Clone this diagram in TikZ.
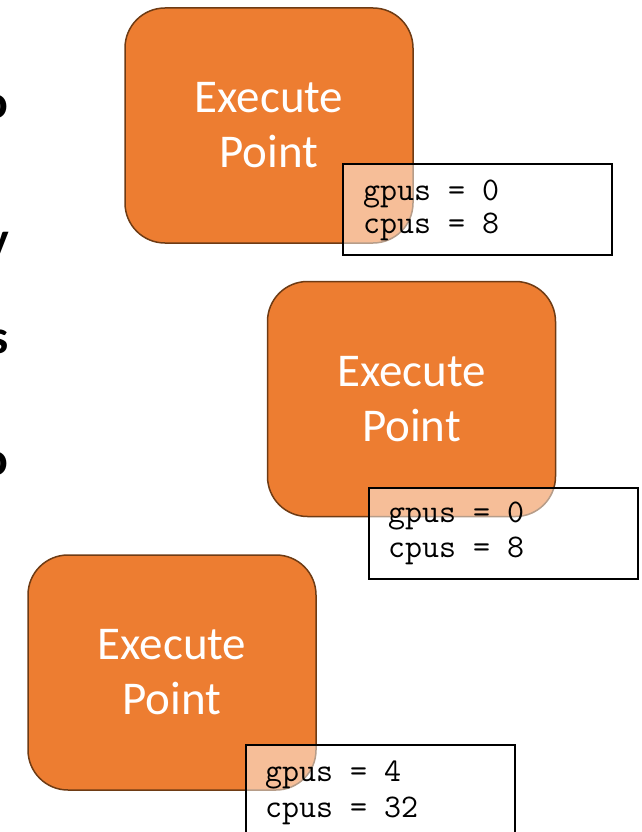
\documentclass[tikz,border=0pt]{standalone}
\usepackage{fontspec}
\newfontfamily\calibri{Carlito}
\usetikzlibrary{positioning}
\definecolor{eporange}{HTML}{ED7D31}
\definecolor{epborder}{HTML}{6E3B14}
\tikzset{
  epbox/.style={draw=epborder, line width=1.5pt, fill=eporange, rounded corners=40pt,
    minimum width=288pt, minimum height=235pt, inner sep=0pt, align=center,
    text=white, font=\calibri\fontsize{47}{55}\selectfont},
  resbox/.style={draw=black, line width=1.5pt, fill=white, fill opacity=0.5,
    minimum width=269pt, minimum height=91pt, inner sep=0pt, anchor=north west},
  restext/.style={anchor=base west, inner sep=0pt, text=black,
    font=\ttfamily\fontsize{33}{36}\selectfont},
  edgeglyph/.style={anchor=base east, inner sep=0pt, text=black,
    font=\calibri\bfseries\fontsize{48}{56}\selectfont}
}
\begin{document}
\begin{tikzpicture}[x=1pt,y=-1pt]
\useasboundingbox (0,0) rectangle (641,832);
\clip (0,0) rectangle (641,832);
% fragments of cut-off text at the left edge
\node[edgeglyph] (f1) at (9,118) {o};
\node[edgeglyph] (f2) at (9,255) {y};
\node[edgeglyph] (f3) at (9,353) {s};
\node[edgeglyph] (f4) at (9,475) {o};
% first execute point
\node[epbox] (ep1) at (269,125.5) {Execute\\Point};
\node[resbox] (r1) at (342,163) {};
\node[restext] (g1) at (363,200) {gpus = 0};
\node[restext] (c1) at (363,233) {cpus = 8};
% second execute point
\node[epbox] (ep2) at (411.5,399) {Execute\\Point};
\node[resbox] (r2) at (368,487) {};
\node[restext] (g2) at (388,522) {gpus = 0};
\node[restext] (c2) at (388,557) {cpus = 8};
% third execute point
\node[epbox] (ep3) at (172,672.5) {Execute\\Point};
\node[resbox, minimum height=120pt] (r3) at (245,744) {};
\node[restext] (g3) at (265,781) {gpus = 4};
\node[restext] (c3) at (265,817) {cpus = 32};
\end{tikzpicture}
\end{document}
